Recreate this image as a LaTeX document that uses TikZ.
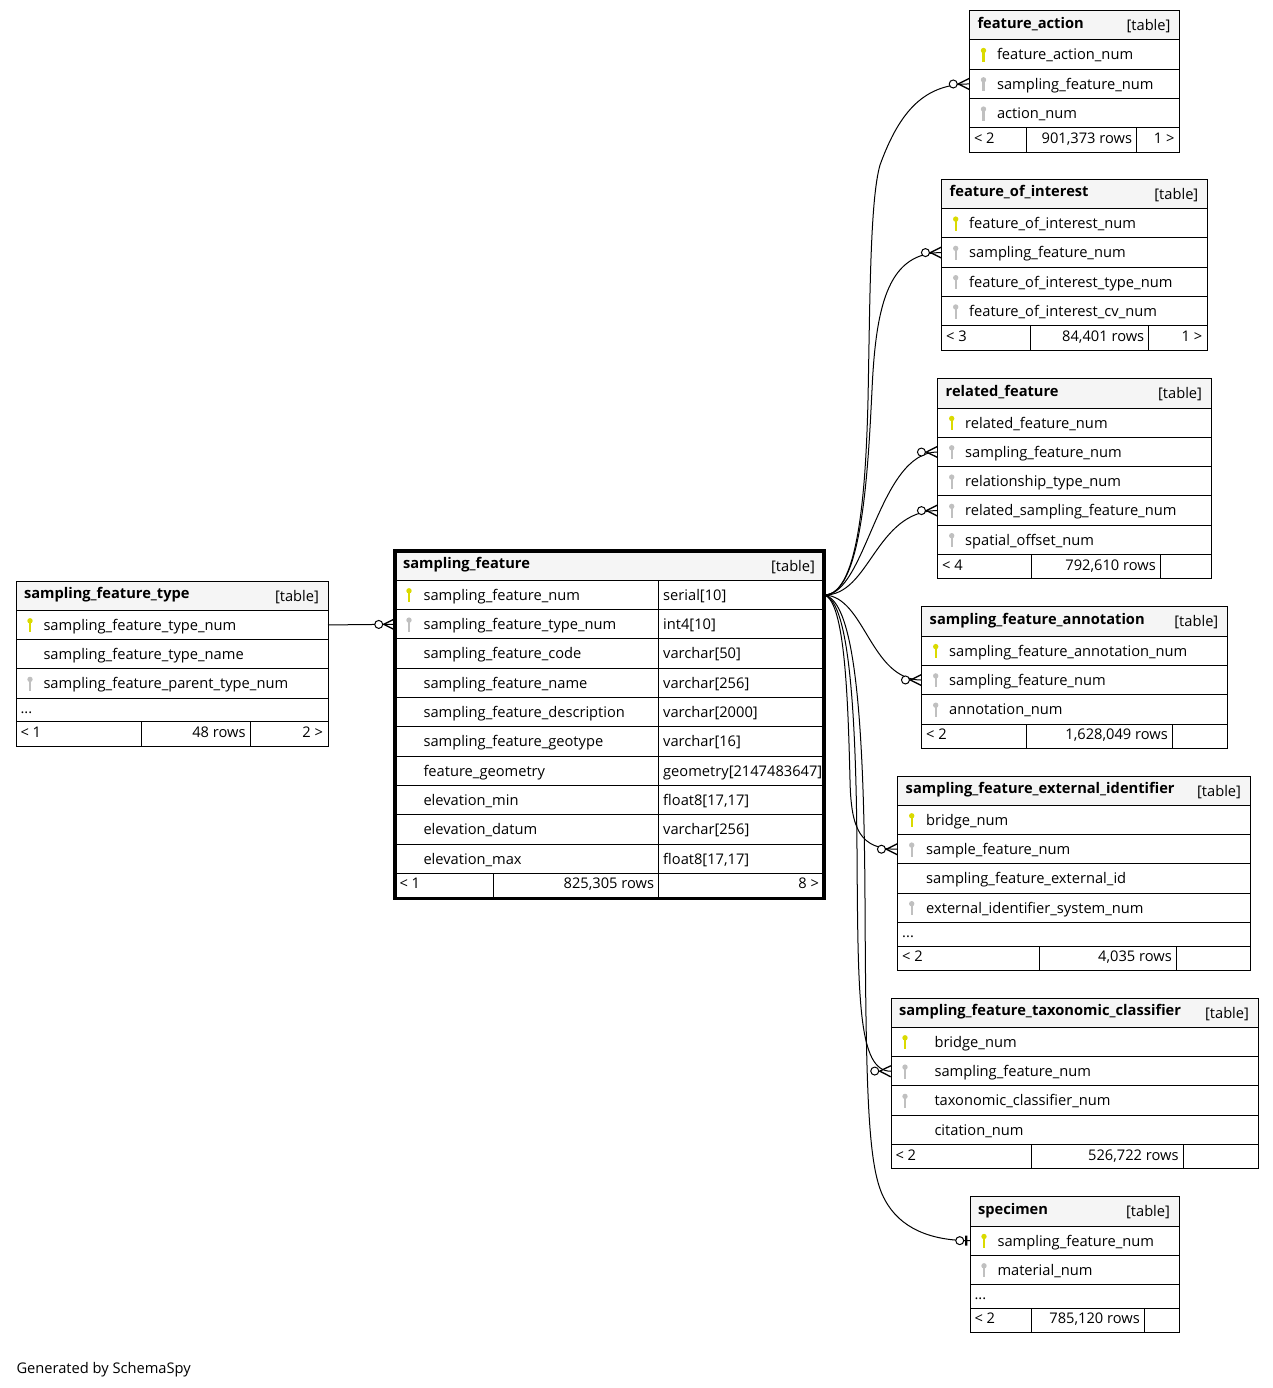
\documentclass[tikz,border=0pt]{standalone}
\usepackage{fontspec}
\setmainfont{Open Sans}
\usepackage{tikz}
\usetikzlibrary{positioning,decorations.markings}
\newdimen\pxu
\pxu=0.75pt
\definecolor{keyyel}{RGB}{218,218,0}
\definecolor{keygry}{RGB}{192,192,192}
\definecolor{headgry}{RGB}{245,245,245}

\begin{document}
\begin{tikzpicture}[x=0.75pt,y=-0.75pt,line width=0.75pt,font=\fontsize{11}{13}\selectfont]
\tikzstyle{cell}=[draw,anchor=north west,inner sep=0,outer sep=0,minimum height=29.3\pxu]
\tikzstyle{tblhead}=[cell,fill=headgry]
\tikzstyle{tblrow}=[cell]
\tikzstyle{tbldots}=[cell,minimum height=23.7\pxu]
\tikzstyle{tblfoot}=[cell,minimum height=24.4\pxu]
\tikzstyle{txt}=[anchor=base west,inner sep=0]
\tikzstyle{rtxt}=[anchor=base east,inner sep=0]
\tikzstyle{ttl}=[txt,font=\fontsize{11}{13}\selectfont\bfseries]
\tikzstyle{rel}=[draw]
\tikzstyle{zeromany}=[postaction={decorate,decoration={markings,mark=at position -0.2pt with {\draw[fill=white] (-16,0) circle[radius=4\pxu]; \draw[line width=1pt] (0,-5.5) -- (-11,0) -- (0,5.5);}}}]
\tikzstyle{zeroone}=[postaction={decorate,decoration={markings,mark=at position -0.2pt with {\draw[fill=white] (-10,0) circle[radius=4\pxu]; \draw[line width=1.6pt] (-3.5,-5) -- (-3.5,5);}}}]
\tikzset{pics/keyicon/.style={code={\fill[fill=#1] (0,0) circle[radius=2.7\pxu]; \fill[fill=#1] (-1.1,0) rectangle (1.1,11.5);}}}
\useasboundingbox (0,0) rectangle (1273,1388);

\node[tblhead,minimum width=312\pxu] (sft-0) at (16,581) {};
\node[ttl] (sft-n) at ([shift={(7.5,17.5)}]sft-0.north west) {sampling\_feature\_type};
\node[rtxt] (sft-tag) at ([shift={(-8.5,20)}]sft-0.north east) {[table]};
\foreach \k/\t [count=\i,remember=\i as \j (initially 0)] in {keyyel/sampling\_feature\_type\_num,none/sampling\_feature\_type\_name,keygry/sampling\_feature\_parent\_type\_num}{
  \node[tblrow,minimum width=312\pxu,below=0pt of sft-\j] (sft-\i) {};
  \pic at ([shift={(14,10.5)}]sft-\i.north west) {keyicon=\k};
  \node[txt] (sft-t\i) at ([shift={(27,20)}]sft-\i.north west) {\t};
}
\node[tbldots,minimum width=312\pxu,below=0pt of sft-3] (sft-dots) {};
\node[txt] (sft-dt) at ([shift={(4,15)}]sft-dots.north west) {...};
\node[tblfoot,minimum width=312\pxu,below=0pt of sft-dots] (sft-f) {};
\draw ([shift={(125,0)}]sft-f.north west) -- ([shift={(125,0)}]sft-f.south west)
      ([shift={(234,0)}]sft-f.north west) -- ([shift={(234,0)}]sft-f.south west);
\node[txt] (sft-f1) at ([shift={(4,15.5)}]sft-f.north west) {< 1};
\node[rtxt] (sft-f2) at ([shift={(230,15.5)}]sft-f.north west) {48 rows};
\node[rtxt] (sft-f3) at ([shift={(-4.5,15.5)}]sft-f.north east) {2 >};

\node[tblhead,minimum width=429\pxu] (sf-0) at (395,551) {};
\node[ttl] (sf-n) at ([shift={(7.5,17.5)}]sf-0.north west) {sampling\_feature};
\node[rtxt] (sf-tag) at ([shift={(-8.5,20)}]sf-0.north east) {[table]};
\foreach \k/\t/\d [count=\i,remember=\i as \j (initially 0)] in {keyyel/sampling\_feature\_num/serial[10],
  keygry/sampling\_feature\_type\_num/int4[10],
  none/sampling\_feature\_code/varchar[50],
  none/sampling\_feature\_name/varchar[256],
  none/sampling\_feature\_description/varchar[2000],
  none/sampling\_feature\_geotype/varchar[16],
  none/feature\_geometry/geometry[2147483647],
  none/elevation\_min/{float8[17,17]},
  none/elevation\_datum/varchar[256],
  none/elevation\_max/{float8[17,17]}}{
  \node[tblrow,minimum width=429\pxu,below=0pt of sf-\j] (sf-\i) {};
  \pic at ([shift={(14,10.5)}]sf-\i.north west) {keyicon=\k};
  \node[txt] (sf-t\i) at ([shift={(28,20)}]sf-\i.north west) {\t};
  \node[txt] (sf-d\i) at ([shift={(267.7,20)}]sf-\i.north west) {\d};
}
\node[tblfoot,minimum height=25.5\pxu,minimum width=429\pxu,below=0pt of sf-10] (sf-f) {};
\draw ([shift={(263.7,0)}]sf-1.north west) -- ([shift={(263.7,0)}]sf-f.south west)
      ([shift={(98,0)}]sf-f.north west) -- ([shift={(98,0)}]sf-f.south west);
\node[txt] (sf-f1) at ([shift={(4,15.5)}]sf-f.north west) {< 1};
\node[rtxt] (sf-f2) at ([shift={(259.5,15.5)}]sf-f.north west) {825,305 rows};
\node[rtxt] (sf-f3) at ([shift={(-4.5,15.5)}]sf-f.north east) {8 >};
\draw[line width=2.4pt] (sf-0.north west) rectangle (sf-f.south east);

\node[tblhead,minimum width=210\pxu] (fa-0) at (969.5,10.7) {};
\node[ttl] (fa-n) at ([shift={(7.5,17.5)}]fa-0.north west) {feature\_action};
\node[rtxt] (fa-tag) at ([shift={(-8.5,20)}]fa-0.north east) {[table]};
\foreach \k/\t [count=\i,remember=\i as \j (initially 0)] in {keyyel/feature\_action\_num,keygry/sampling\_feature\_num,keygry/action\_num}{
  \node[tblrow,minimum width=210\pxu,below=0pt of fa-\j] (fa-\i) {};
  \pic at ([shift={(14,10.5)}]fa-\i.north west) {keyicon=\k};
  \node[txt] (fa-t\i) at ([shift={(27,20)}]fa-\i.north west) {\t};
}
\node[tblfoot,minimum width=210\pxu,below=0pt of fa-3] (fa-f) {};
\draw ([shift={(56.5,0)}]fa-f.north west) -- ([shift={(56.5,0)}]fa-f.south west)
      ([shift={(167.2,0)}]fa-f.north west) -- ([shift={(167.2,0)}]fa-f.south west);
\node[txt] (fa-f1) at ([shift={(4,15.5)}]fa-f.north west) {< 2};
\node[rtxt] (fa-f2) at ([shift={(163,15.5)}]fa-f.north west) {901,373 rows};
\node[rtxt] (fa-f3) at ([shift={(-4.5,15.5)}]fa-f.north east) {1 >};

\node[tblhead,minimum width=265.6\pxu] (foi-0) at (941.7,179.3) {};
\node[ttl] (foi-n) at ([shift={(7.5,17.5)}]foi-0.north west) {feature\_of\_interest};
\node[rtxt] (foi-tag) at ([shift={(-8.5,20)}]foi-0.north east) {[table]};
\foreach \k/\t [count=\i,remember=\i as \j (initially 0)] in {keyyel/feature\_of\_interest\_num,keygry/sampling\_feature\_num,keygry/feature\_of\_interest\_type\_num,keygry/feature\_of\_interest\_cv\_num}{
  \node[tblrow,minimum width=265.6\pxu,below=0pt of foi-\j] (foi-\i) {};
  \pic at ([shift={(14,10.5)}]foi-\i.north west) {keyicon=\k};
  \node[txt] (foi-t\i) at ([shift={(27,20)}]foi-\i.north west) {\t};
}
\node[tblfoot,minimum width=265.6\pxu,below=0pt of foi-4] (foi-f) {};
\draw ([shift={(88.3,0)}]foi-f.north west) -- ([shift={(88.3,0)}]foi-f.south west)
      ([shift={(207,0)}]foi-f.north west) -- ([shift={(207,0)}]foi-f.south west);
\node[txt] (foi-f1) at ([shift={(4,15.5)}]foi-f.north west) {< 3};
\node[rtxt] (foi-f2) at ([shift={(203,15.5)}]foi-f.north west) {84,401 rows};
\node[rtxt] (foi-f3) at ([shift={(-4.5,15.5)}]foi-f.north east) {1 >};

\node[tblhead,minimum width=273.3\pxu] (rf-0) at (937.7,378.7) {};
\node[ttl] (rf-n) at ([shift={(7.5,17.5)}]rf-0.north west) {related\_feature};
\node[rtxt] (rf-tag) at ([shift={(-8.5,20)}]rf-0.north east) {[table]};
\foreach \k/\t [count=\i,remember=\i as \j (initially 0)] in {keyyel/related\_feature\_num,keygry/sampling\_feature\_num,keygry/relationship\_type\_num,keygry/related\_sampling\_feature\_num,keygry/spatial\_offset\_num}{
  \node[tblrow,minimum width=273.3\pxu,below=0pt of rf-\j] (rf-\i) {};
  \pic at ([shift={(14,10.5)}]rf-\i.north west) {keyicon=\k};
  \node[txt] (rf-t\i) at ([shift={(27,20)}]rf-\i.north west) {\t};
}
\node[tblfoot,minimum width=273.3\pxu,below=0pt of rf-5] (rf-f) {};
\draw ([shift={(93.3,0)}]rf-f.north west) -- ([shift={(93.3,0)}]rf-f.south west)
      ([shift={(222.6,0)}]rf-f.north west) -- ([shift={(222.6,0)}]rf-f.south west);
\node[txt] (rf-f1) at ([shift={(4,15.5)}]rf-f.north west) {< 4};
\node[rtxt] (rf-f2) at ([shift={(218.6,15.5)}]rf-f.north west) {792,610 rows};

\node[tblhead,minimum width=305.6\pxu] (sfa-0) at (921.7,606.8) {};
\node[ttl] (sfa-n) at ([shift={(7.5,17.5)}]sfa-0.north west) {sampling\_feature\_annotation};
\node[rtxt] (sfa-tag) at ([shift={(-8.5,20)}]sfa-0.north east) {[table]};
\foreach \k/\t [count=\i,remember=\i as \j (initially 0)] in {keyyel/sampling\_feature\_annotation\_num,keygry/sampling\_feature\_num,keygry/annotation\_num}{
  \node[tblrow,minimum width=305.6\pxu,below=0pt of sfa-\j] (sfa-\i) {};
  \pic at ([shift={(14,10.5)}]sfa-\i.north west) {keyicon=\k};
  \node[txt] (sfa-t\i) at ([shift={(27,20)}]sfa-\i.north west) {\t};
}
\node[tblfoot,minimum width=305.6\pxu,below=0pt of sfa-3] (sfa-f) {};
\draw ([shift={(104.3,0)}]sfa-f.north west) -- ([shift={(104.3,0)}]sfa-f.south west)
      ([shift={(250.6,0)}]sfa-f.north west) -- ([shift={(250.6,0)}]sfa-f.south west);
\node[txt] (sfa-f1) at ([shift={(4,15.5)}]sfa-f.north west) {< 2};
\node[rtxt] (sfa-f2) at ([shift={(246.6,15.5)}]sfa-f.north west) {1,628,049 rows};

\node[tblhead,minimum width=352.3\pxu] (sfei-0) at (897.7,776) {};
\node[ttl] (sfei-n) at ([shift={(7.5,17.5)}]sfei-0.north west) {sampling\_feature\_external\_identifier};
\node[rtxt] (sfei-tag) at ([shift={(-8.5,20)}]sfei-0.north east) {[table]};
\foreach \k/\t [count=\i,remember=\i as \j (initially 0)] in {keyyel/bridge\_num,keygry/sample\_feature\_num,none/sampling\_feature\_external\_id,keygry/external\_identifier\_system\_num}{
  \node[tblrow,minimum width=352.3\pxu,below=0pt of sfei-\j] (sfei-\i) {};
  \pic at ([shift={(14,10.5)}]sfei-\i.north west) {keyicon=\k};
  \node[txt] (sfei-t\i) at ([shift={(28,20)}]sfei-\i.north west) {\t};
}
\node[tbldots,minimum width=352.3\pxu,below=0pt of sfei-4] (sfei-dots) {};
\node[txt] (sfei-dt) at ([shift={(4,15)}]sfei-dots.north west) {...};
\node[tblfoot,minimum width=352.3\pxu,below=0pt of sfei-dots] (sfei-f) {};
\draw ([shift={(141.6,0)}]sfei-f.north west) -- ([shift={(141.6,0)}]sfei-f.south west)
      ([shift={(278.6,0)}]sfei-f.north west) -- ([shift={(278.6,0)}]sfei-f.south west);
\node[txt] (sfei-f1) at ([shift={(4,15.5)}]sfei-f.north west) {< 2};
\node[rtxt] (sfei-f2) at ([shift={(274.6,15.5)}]sfei-f.north west) {4,035 rows};

\node[tblhead,minimum width=367\pxu] (sftc-0) at (891,998) {};
\node[ttl] (sftc-n) at ([shift={(7.5,17.5)}]sftc-0.north west) {sampling\_feature\_taxonomic\_classifier};
\node[rtxt] (sftc-tag) at ([shift={(-8.5,20)}]sftc-0.north east) {[table]};
\foreach \k/\t [count=\i,remember=\i as \j (initially 0)] in {keyyel/bridge\_num,keygry/sampling\_feature\_num,keygry/taxonomic\_classifier\_num,none/citation\_num}{
  \node[tblrow,minimum width=367\pxu,below=0pt of sftc-\j] (sftc-\i) {};
  \pic at ([shift={(14,10.5)}]sftc-\i.north west) {keyicon=\k};
  \node[txt] (sftc-t\i) at ([shift={(43,20)}]sftc-\i.north west) {\t};
}
\node[tblfoot,minimum width=367\pxu,below=0pt of sftc-4] (sftc-f) {};
\draw ([shift={(140,0)}]sftc-f.north west) -- ([shift={(140,0)}]sftc-f.south west)
      ([shift={(292,0)}]sftc-f.north west) -- ([shift={(292,0)}]sftc-f.south west);
\node[txt] (sftc-f1) at ([shift={(4,15.5)}]sftc-f.north west) {< 2};
\node[rtxt] (sftc-f2) at ([shift={(288,15.5)}]sftc-f.north west) {526,722 rows};

\node[tblhead,minimum width=209\pxu] (sp-0) at (970,1196.7) {};
\node[ttl] (sp-n) at ([shift={(7.5,17.5)}]sp-0.north west) {specimen};
\node[rtxt] (sp-tag) at ([shift={(-8.5,20)}]sp-0.north east) {[table]};
\foreach \k/\t [count=\i,remember=\i as \j (initially 0)] in {keyyel/sampling\_feature\_num,keygry/material\_num}{
  \node[tblrow,minimum width=209\pxu,below=0pt of sp-\j] (sp-\i) {};
  \pic at ([shift={(14,10.5)}]sp-\i.north west) {keyicon=\k};
  \node[txt] (sp-t\i) at ([shift={(27,20)}]sp-\i.north west) {\t};
}
\node[tbldots,minimum width=209\pxu,below=0pt of sp-2] (sp-dots) {};
\node[txt] (sp-dt) at ([shift={(4,15)}]sp-dots.north west) {...};
\node[tblfoot,minimum width=209\pxu,below=0pt of sp-dots] (sp-f) {};
\draw ([shift={(61,0)}]sp-f.north west) -- ([shift={(61,0)}]sp-f.south west)
      ([shift={(174.3,0)}]sp-f.north west) -- ([shift={(174.3,0)}]sp-f.south west);
\node[txt] (sp-f1) at ([shift={(4,15.5)}]sp-f.north west) {< 2};
\node[rtxt] (sp-f2) at ([shift={(170.3,15.5)}]sp-f.north west) {785,120 rows};

\node[txt] (gen) at (16,1373) {Generated by SchemaSpy};

\draw[rel,zeromany] (sft-1.east) -- (sf-2.west);
\draw[rel,zeromany] (sf-1.east) .. controls (860,596) and (866,480) .. (868,400) .. controls (870,300) and (870,200) .. (880,165) .. controls (900,110) and (925,0 |- fa-2.west) .. (fa-2.west);
\draw[rel,zeromany] (sf-1.east) .. controls (862,596) and (868,470) .. (872,390) .. controls (876,300) and (890,0 |- foi-2.west) .. (foi-2.west);
\draw[rel,zeromany] (sf-1.east) .. controls (866,596) and (878,0 |- rf-2.west) .. (rf-2.west);
\draw[rel,zeromany] (sf-1.east) .. controls (870,596) and (875,0 |- rf-4.west) .. (rf-4.west);
\draw[rel,zeromany] (sf-1.east) .. controls (865,596) and (870,0 |- sfa-2.west) .. (sfa-2.west);
\draw[rel,zeromany] (sf-1.east) .. controls (845,600) and (848,700) .. (850,780) .. controls (851,830) and (860,0 |- sfei-2.west) .. (sfei-2.west);
\draw[rel,zeromany] (sf-1.east) .. controls (850,600) and (856,720) .. (857,850) .. controls (858,1000) and (858,0 |- sftc-2.west) .. (sftc-2.west);
\draw[rel,zeroone] (sf-1.east) .. controls (855,600) and (864,720) .. (865,900) .. controls (866,1100) and (868,1170) .. (885,1200) .. controls (900,1228) and (930,0 |- sp-1.west) .. (sp-1.west);
\end{tikzpicture}
\end{document}
